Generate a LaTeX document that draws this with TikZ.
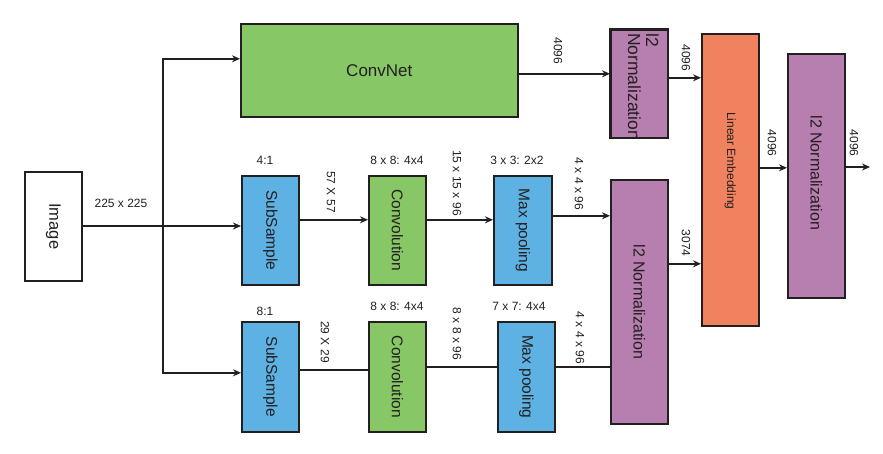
\documentclass[tikz,border=0pt]{standalone}
\usepackage{fontspec}
\setmainfont{Liberation Sans}
\usetikzlibrary{arrows.meta}
\definecolor{dk}{RGB}{35,31,32}
\definecolor{cgreen}{RGB}{136,199,102}
\definecolor{cblue}{RGB}{93,178,227}
\definecolor{cpurp}{RGB}{183,127,176}
\definecolor{corange}{RGB}{241,130,96}
\begin{document}
\begin{tikzpicture}[x=1pt,y=-1pt,
  box/.style={draw=dk, line width=1.6pt, inner sep=0pt, anchor=north west, text=dk,
              font=\fontsize{15.5}{18}\selectfont},
  lbl/.style={font=\fontsize{12}{14}\selectfont, text=dk, inner sep=0pt},
  rlbl/.style={lbl, rotate=-90},
  wire/.style={draw=dk, line width=1.4pt},
  arr/.style={wire, -{Stealth[length=8pt,width=7pt]}}]
\useasboundingbox (0,0) rectangle (883,453);

% boxes
\node[box, fill=white, minimum width=57pt, minimum height=109pt] (img) at (24,171)
  {\rotatebox{-90}{\fontsize{16.5}{18}\selectfont Image}};
\node[box, fill=cgreen, minimum width=277pt, minimum height=93pt] (convnet) at (240,23)
  {\fontsize{17}{18}\selectfont ConvNet};
\node[box, fill=cpurp, minimum width=57pt, minimum height=108pt] (l2top) at (610,29) {};
\begin{scope}
  \clip (l2top.north west) rectangle (l2top.south east);
  \node[rotate=-90, anchor=north west, align=left, inner sep=0pt, text=dk,
     font=\fontsize{17.5}{18}\selectfont] (l2toptext) at (659,33) {l2\\Normalization};
\end{scope}
\draw[draw=dk, line width=1.6pt] (l2top.north west) rectangle (l2top.south east);

\node[box, fill=cblue, minimum width=57pt, minimum height=109pt] (ss1) at (241,175)
  {\rotatebox{-90}{SubSample}};
\node[box, fill=cgreen, minimum width=57pt, minimum height=109pt] (conv1) at (368,175)
  {\rotatebox{-90}{Convolution}};
\node[box, fill=cblue, minimum width=58pt, minimum height=109pt] (mp1) at (493,175)
  {\rotatebox{-90}{Max pooling}};
\node[box, fill=cpurp, minimum width=57pt, minimum height=244pt] (l2mid) at (610,179)
  {\rotatebox{-90}{\fontsize{16}{18}\selectfont l2 Normalization}};

\node[box, fill=cblue, minimum width=57pt, minimum height=110pt] (ss2) at (241,321)
  {\rotatebox{-90}{SubSample}};
\node[box, fill=cgreen, minimum width=57pt, minimum height=110pt] (conv2) at (368,321)
  {\rotatebox{-90}{Convolution}};
\node[box, fill=cblue, minimum width=57pt, minimum height=110pt] (mp2) at (497,321)
  {\rotatebox{-90}{Max pooling}};

\node[box, fill=corange, minimum width=57pt, minimum height=292pt] (lin) at (701,33)
  {\rotatebox{-90}{\fontsize{12}{14}\selectfont Linear Embedding\hspace{38pt}}};
\node[box, fill=cpurp, minimum width=57pt, minimum height=244pt] (l2r) at (787,53)
  {\rotatebox{-90}{\fontsize{16}{18}\selectfont l2 Normalization\hspace{6pt}}};

% connectors
\coordinate (j) at (163,226);
\coordinate (out) at (870,167);
\draw[arr] (img.east |- j) -- (j) -- (j -| ss1.west);
\draw[arr] (j) |- ([yshift=11.5pt]convnet.west);
\draw[arr] (j) |- ([yshift=4pt]ss2.west);
\draw[arr] ([yshift=-3.5pt]convnet.east) -- ([yshift=-3.5pt]convnet.east -| l2top.west);

\draw[arr] ([yshift=10.5pt]ss1.east) -- ([yshift=10.5pt]ss1.east -| conv1.west);
\draw[arr] ([yshift=10.5pt]conv1.east) -- ([yshift=10.5pt]conv1.east -| mp1.west);
\draw[arr] ([yshift=14.5pt]mp1.east) -- ([yshift=14.5pt]mp1.east -| l2mid.west);

\draw[wire] ([yshift=7pt]ss2.east) -- ([yshift=7pt]ss2.east -| conv2.west);
\draw[wire] ([yshift=10pt]conv2.east) -- ([yshift=10pt]conv2.east -| mp2.west);
\draw[wire] ([yshift=10pt]mp2.east) -- ([yshift=10pt]mp2.east -| l2mid.west);

\draw[arr] ([yshift=6pt]l2top.east) -- ([yshift=6pt]l2top.east -| lin.west);
\draw[arr] ([yshift=38pt]l2mid.east) -- ([yshift=38pt]l2mid.east -| lin.west);
\draw[arr] ([yshift=12pt]lin.east) -- ([yshift=12pt]lin.east -| l2r.west);
\draw[arr] (l2r.east |- out) -- (out);

% labels
\node[lbl] (t1) at (121,203) {225 x 225};
\node[lbl] (t2) at (265,160) {4:1};
\node[lbl] (t3) at (397,160) {8 x 8: 4x4};
\node[lbl] (t4) at (517,160) {3 x 3: 2x2};
\node[rlbl] (t5) at (331,192) {57 X 57};
\node[rlbl] (t6) at (457,183) {15 x 15 x 96};
\node[rlbl] (t7) at (579,184) {4 x 4 x 96};
\node[lbl] (t8) at (265,311) {8:1};
\node[lbl] (t9) at (397,306) {8 x 8: 4x4};
\node[lbl] (t10) at (519,306) {7 x 7: 4x4};
\node[rlbl] (t11) at (325,342) {29 X 29};
\node[rlbl] (t12) at (457,334) {8 x 8 x 96};
\node[rlbl] (t13) at (580,338) {4 x 4 x 96};
\node[rlbl] (t14) at (558,51) {4096};
\node[rlbl] (t15) at (686,58) {4096};
\node[rlbl] (t16) at (686,243) {3074};
\node[rlbl] (t17) at (772,143) {4096};
\node[rlbl] (t18) at (854,143) {4096};
\end{tikzpicture}
\end{document}
